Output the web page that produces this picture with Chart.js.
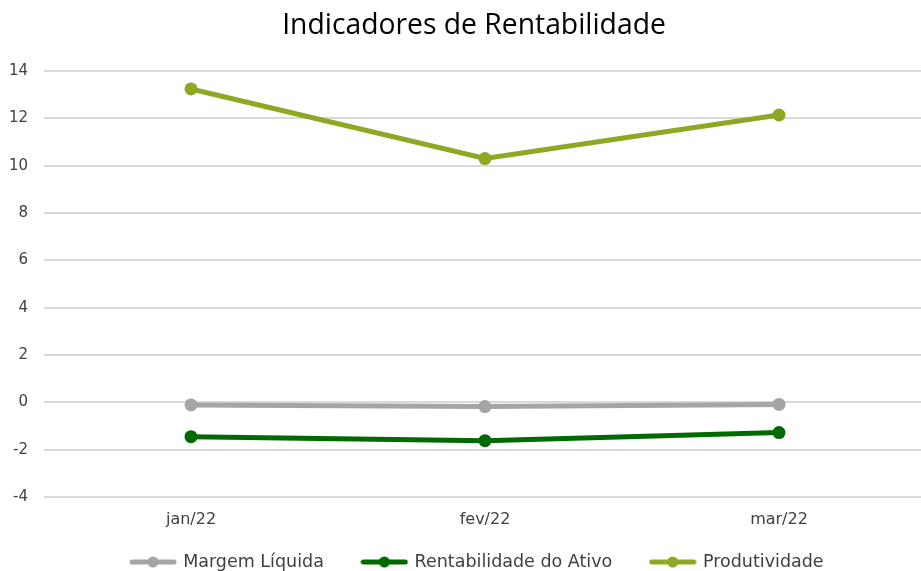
<!DOCTYPE html>
<html><head><meta charset="utf-8">
<script src="https://cdn.jsdelivr.net/npm/chart.js@4/dist/chart.umd.min.js"></script>
<style>html,body{margin:0;padding:0;background:#fff;overflow:hidden}#w{width:921px;height:571px}</style>
</head><body><div id="w"><canvas id="c"></canvas></div>
<script>
const categories = ['jan/22', 'fev/22', 'mar/22'];
const margemLiquida = [-0.11, -0.18, -0.09];
const rentabilidadeAtivo = [-1.45, -1.62, -1.28];
const produtividade = [13.24, 10.30, 12.14];
const seriesNames = ['Margem Líquida', 'Rentabilidade do Ativo', 'Produtividade'];
const seriesColors = ['#A5A5A5', '#006A00', '#8EA824'];
const yTicks = [-4, -2, 0, 2, 4, 6, 8, 10, 12, 14];

const FONT = 'DejaVu Sans';
function legendIcon(color){
  const cv = document.createElement('canvas');
  cv.width = 48; cv.height = 14;
  const g = cv.getContext('2d');
  g.strokeStyle = color; g.lineWidth = 5; g.lineCap = 'round';
  g.beginPath(); g.moveTo(3,7); g.lineTo(45,7); g.stroke();
  g.fillStyle = color; g.beginPath(); g.arc(24,7,5.5,0,Math.PI*2); g.fill();
  return cv;
}
const layoutTweak = { id: 'layoutTweak', afterLayout(chart){
  if (chart.titleBlock){ chart.titleBlock.left = 27; chart.titleBlock.right = 921; }
  if (chart.legend){ chart.legend.left = 17; chart.legend.right = 938; }
  const x = chart.scales.x;
  x.right = x.left + 882; x.width = 882;
  x.bottom = x.top + 45; x.height = 45;
  x.configure();
} };
const data = [margemLiquida, rentabilidadeAtivo, produtividade];
new Chart(document.getElementById('c'), {
  type: 'line',
  plugins: [layoutTweak],
  data: {
    labels: categories,
    datasets: data.map((d,i)=>({
      label: seriesNames[i], data: d,
      borderColor: seriesColors[i], backgroundColor: seriesColors[i],
      borderWidth: 5, pointRadius: 6.5, pointHoverRadius: 6.5,
      pointBackgroundColor: seriesColors[i], pointBorderWidth: 0,
      pointStyle: 'circle', tension: 0, clip: false
    }))
  },
  options: {
    responsive: true, maintainAspectRatio: false, animation: false,
    layout: { autoPadding: false, padding: { left: 0, right: 0, top: 0, bottom: -9.75 } },
    plugins: {
      title: { display: true, text: 'Indicadores de Rentabilidade', color: '#000',
        font: { family: 'Open Sans', size: 28.3, weight: 'normal' }, padding: { top: 9, bottom: 28 } },
      legend: { position: 'bottom',
        labels: { usePointStyle: true, pointStyleWidth: 43, color: '#404040', font: { family: FONT, size: 17.5 },
          padding: 39, boxHeight: 14,
          generateLabels: (chart) => chart.data.datasets.map((ds,i)=>({
            text: ds.label, pointStyle: legendIcon(seriesColors[i]), fillStyle: seriesColors[i],
            strokeStyle: seriesColors[i], lineWidth: 0, datasetIndex: i, hidden: false, fontColor: '#404040'
          })) } },
      tooltip: { enabled: false }
    },
    scales: {
      x: { offset: true, grid: { display: false }, border: { display: false },
        afterFit: (s)=>{ s.paddingLeft = 0; s.paddingRight = 0; s.height = 17.25; },
        ticks: { color: '#404040', font: { family: FONT, size: 16 }, padding: 5 } },
      y: { min: -4, max: 14, afterBuildTicks: (s)=>{ s.ticks = yTicks.map(v=>({value:v})); },
        afterFit: (s)=>{ s.width = 44; s.paddingTop = 0; s.paddingBottom = 0; },
        grid: { color: '#D9D9D9', lineWidth: 2, drawTicks: false }, border: { display: false },
        ticks: { color: '#404040', font: { family: FONT, size: 15 }, padding: 16 } }
    }
  }
});
</script></body></html>
